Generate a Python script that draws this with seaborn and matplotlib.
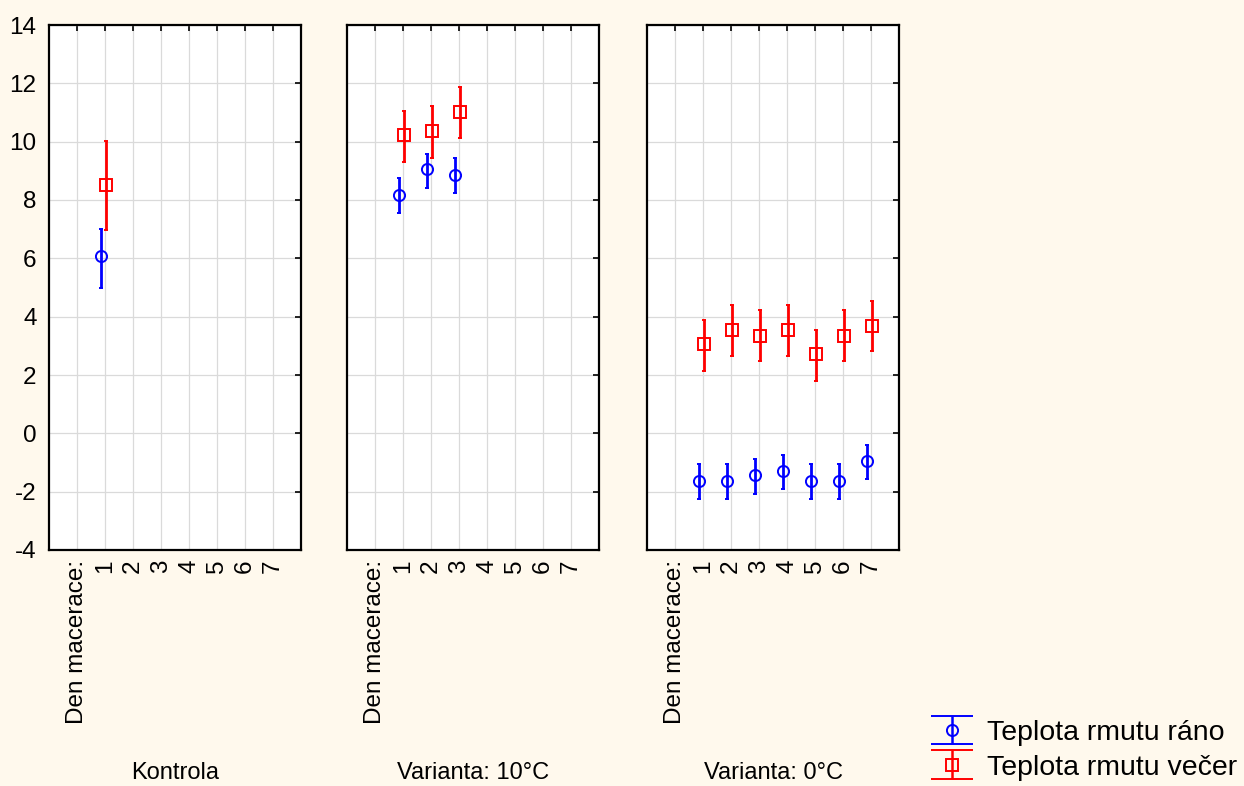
import numpy as np
import matplotlib
matplotlib.use('Agg')
import matplotlib.pyplot as plt
import seaborn as sns

# panels and days of maceration
panels = ['Kontrola', 'Varianta: 10°C', 'Varianta: 0°C']
days = [[1], [1, 2, 3], [1, 2, 3, 4, 5, 6, 7]]
tick_labels = ['Den macerace:', '1', '2', '3', '4', '5', '6', '7']
series_names = ['Teplota rmutu ráno', 'Teplota rmutu večer']

# morning temperature: mean and interval limits
morning_mean = [[6.07], [8.18, 9.07, 8.85],
                [-1.64, -1.64, -1.43, -1.28, -1.64, -1.64, -0.94]]
morning_low = [[4.99], [7.57, 8.40, 8.23],
               [-2.26, -2.26, -2.09, -1.92, -2.26, -2.26, -1.58]]
morning_high = [[7.02], [8.74, 9.59, 9.43],
                [-1.06, -1.06, -0.89, -0.73, -1.06, -1.06, -0.40]]

# evening temperature: mean and interval limits
evening_mean = [[8.52], [10.22, 10.35, 11.02],
                [3.08, 3.55, 3.34, 3.55, 2.73, 3.34, 3.68]]
evening_low = [[6.98], [9.30, 9.45, 10.12],
               [2.13, 2.64, 2.47, 2.64, 1.79, 2.47, 2.81]]
evening_high = [[10.02], [11.05, 11.21, 11.88],
                [3.89, 4.39, 4.22, 4.39, 3.56, 4.22, 4.55]]

sns.set_theme(style='white')
plt.rcParams['font.family'] = ['Liberation Sans', 'DejaVu Sans']
plt.rcParams['axes.unicode_minus'] = False
plt.rcParams['text.color'] = 'black'
plt.rcParams['axes.labelcolor'] = 'black'

bg = '#FFF9ED'
fig = plt.figure(figsize=(12.44, 7.86), dpi=100, facecolor=bg)

lefts = [49 / 1244, 347 / 1244, 647 / 1244]
width = 252 / 1244
bottom = 1 - 550 / 786
height = 525 / 786

series = [
    (morning_mean, morning_low, morning_high, 'blue', 'o', -0.15, 8),
    (evening_mean, evening_low, evening_high, 'red', 's', 0.02, 8.5),
]

axes = []
for i, name in enumerate(panels):
    ax = fig.add_axes([lefts[i], bottom, width, height], facecolor='white')
    axes.append(ax)
    for (mean, low, high, color, marker, shift, ms) in series:
        x = np.array(days[i]) + shift
        m = np.array(mean[i])
        err = [m - np.array(low[i]), np.array(high[i]) - m]
        ax.errorbar(x, m, yerr=err, fmt=marker, color=color, mfc='none',
                    mec=color, mew=1.4, ms=ms, elinewidth=2.0, capsize=1.2,
                    capthick=2.0, zorder=3)
    ax.set_xlim(-1, 8)
    ax.set_ylim(-4, 14)
    ax.set_xticks(range(len(tick_labels)))
    ax.set_xticklabels(tick_labels, rotation=90, va='top', ha='center')
    ax.set_yticks(np.arange(-4, 15, 2))
    ax.grid(True, color='#DADADA', lw=0.9)
    ax.set_axisbelow(True)
    ax.tick_params(direction='in', length=4, width=1.2, top=True, right=True,
                   labelsize=17.5, colors='black', pad=7)
    ax.tick_params(axis='y', labelleft=(i == 0), pad=9)
    for sp in ax.spines.values():
        sp.set_color('black')
        sp.set_linewidth(1.6)
    ax.set_xlabel(name, fontsize=17)
    ax.xaxis.set_label_coords(0.5, -0.425)
    ax.xaxis.label.set_va('center')

# legend handles (not drawn in the axes)
handles = []
for (mean, low, high, color, marker, shift, ms), label in zip(series, series_names):
    h = axes[2].errorbar([np.nan], [np.nan], yerr=[1], fmt=marker, color=color,
                         mfc='none', mec=color, mew=1.4, ms=ms,
                         elinewidth=1.8, capsize=15, capthick=1.8, label=label)
    handles.append(h)

fig.legend(handles, series_names, loc='lower right', bbox_to_anchor=(1.007, -0.013),
           frameon=False, fontsize=20.5, handlelength=1.45, handletextpad=0.5,
           labelspacing=0.3, borderaxespad=0.15)

plt.savefig('out.png', dpi=100, facecolor=bg)
